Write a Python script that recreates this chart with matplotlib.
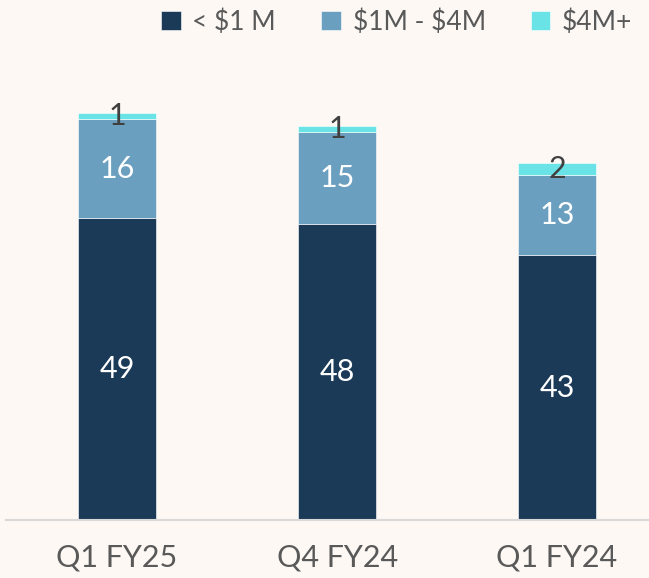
import matplotlib
matplotlib.use('Agg')
from matplotlib import pyplot as plt
import numpy as np

quarters = ['Q1 FY25', 'Q4 FY24', 'Q1 FY24']
under_1m = [49, 48, 43]
mid_1m_4m = [16, 15, 13]
over_4m = [1, 1, 2]
legend_labels = ['< $1 M', '$1M - $4M', '$4M+']

bg = '#fdf8f4'
colors = ['#1b3a57', '#6b9fc0', '#6ae3e6']

plt.rcParams['font.family'] = ['Lato', 'DejaVu Sans']
plt.rcParams['text.parse_math'] = False

fig = plt.figure(figsize=(6.49, 5.78), dpi=100, facecolor=bg)
ax = fig.add_axes([6/649, 58/578, 643/649, 493/578], facecolor=bg)

x = np.arange(len(quarters))
w = 0.355
b1 = ax.bar(x, under_1m, w, color=colors[0], edgecolor='white', linewidth=0.4, label=legend_labels[0])
b2 = ax.bar(x, mid_1m_4m, w, bottom=under_1m, color=colors[1], edgecolor='white', linewidth=0.4, label=legend_labels[1])
bottom3 = np.array(under_1m) + np.array(mid_1m_4m)
b3 = ax.bar(x, over_4m, w, bottom=bottom3, color=colors[2], edgecolor='white', linewidth=0.4, label=legend_labels[2])

for i in range(len(quarters)):
    ax.text(x[i], under_1m[i] / 2, str(under_1m[i]), ha='center', va='center', color='white', fontsize=22)
    ax.text(x[i], under_1m[i] + mid_1m_4m[i] / 2, str(mid_1m_4m[i]), ha='center', va='center', color='white', fontsize=22)
    ax.text(x[i], bottom3[i] + over_4m[i] / 2, str(over_4m[i]), ha='center', va='center', color='#404040', fontsize=22)

ax.set_xlim(-0.505, 2.418)
ax.set_ylim(0, 80)
ax.set_xticks(x)
ax.set_xticklabels(quarters, fontsize=22, color='#595959')
ax.tick_params(axis='x', length=0, pad=17)
ax.set_yticks([])
for s in ['top', 'left', 'right']:
    ax.spines[s].set_visible(False)
ax.spines['bottom'].set_color('#d9d9d9')
ax.spines['bottom'].set_linewidth(1.5)

fig.legend(handles=[b1, b2, b3], labels=legend_labels, loc='center right', bbox_to_anchor=(0.995, 1 - 22/578),
           ncol=3, frameon=False, fontsize=19, labelcolor='#595959', handlelength=0.75, handleheight=0.75,
           handletextpad=0.45, columnspacing=1.7, borderpad=0)

fig.savefig('out.png', dpi=100, facecolor=bg)
